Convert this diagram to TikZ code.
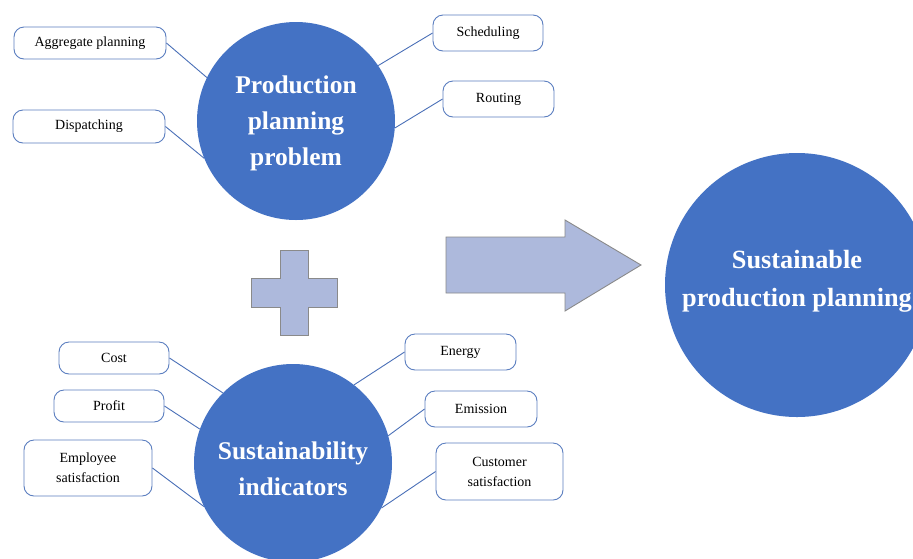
\documentclass[tikz,border=0pt]{standalone}
\usepackage{fontspec}
\setmainfont{Liberation Serif}
\definecolor{circblue}{HTML}{4472C4}
\definecolor{boxblue}{HTML}{5B7EC0}
\definecolor{lineblue}{HTML}{4A70B8}
\definecolor{shapefill}{HTML}{ADB9DC}
\definecolor{shapeedge}{HTML}{8A8A8A}
\tikzset{
  bigcirc/.style={circle, fill=circblue, draw=none, inner sep=0pt, text=white, align=center,
    font=\fontsize{25.5}{36}\selectfont\bfseries},
  itembox/.style={rectangle, rounded corners=10pt, draw=boxblue, line width=0.9pt, fill=white,
    inner sep=0pt, align=center, font=\fontsize{14}{20}\selectfont},
  link/.style={draw=lineblue, line width=0.9pt},
  shapebox/.style={fill=shapefill, draw=shapeedge, line width=0.9pt}
}
\begin{document}
\begin{tikzpicture}[x=1pt,y=-1pt]
\useasboundingbox (0,0) rectangle (913,558);
\clip (0,0) rectangle (913,558);
\fill[white] (0,0) rectangle (913,558);
% circles
\node[bigcirc, minimum size=198pt] (pp) at (296,121) {\rule{0pt}{22pt}Production\\planning\\problem};
\node[bigcirc, minimum size=198pt] (si) at (293,463) {\rule{0pt}{30pt}Sustainability\\indicators};
\node[bigcirc, minimum size=264pt, font=\fontsize{26.3}{38}\selectfont\bfseries] (sp) at (797,285) {Sustainable\\production planning\rule[-14pt]{0pt}{0pt}};
% boxes
\node[itembox, minimum width=152pt, minimum height=32pt] (agg) at (90,43) {Aggregate planning};
\node[itembox, minimum width=152pt, minimum height=33pt] (disp) at (89,126.5) {Dispatching};
\node[itembox, minimum width=110pt, minimum height=36pt] (sched) at (488,33) {Scheduling};
\node[itembox, minimum width=111pt, minimum height=36pt] (rout) at (498.5,99) {Routing};
\node[itembox, minimum width=110pt, minimum height=32pt] (cost) at (114,358) {Cost};
\node[itembox, minimum width=110pt, minimum height=32pt] (prof) at (109,406) {Profit};
\node[itembox, minimum width=128pt, minimum height=56pt] (emp) at (88,468) {Employee\\satisfaction};
\node[itembox, minimum width=111pt, minimum height=36pt] (ener) at (460.5,352) {Energy};
\node[itembox, minimum width=112pt, minimum height=36pt] (emis) at (481,409) {Emission};
\node[itembox, minimum width=127pt, minimum height=57pt] (cust) at (499.5,471.5) {Customer\\satisfaction};
% connectors
\draw[link] (agg.east) -- (pp.154);
\draw[link] (disp.east) -- (pp.202);
\draw[link] (sched.west) -- (pp.34);
\draw[link] (rout.west) -- (pp.-4);
\draw[link] (cost.east) -- (si.135);
\draw[link] (prof.east) -- (si.160);
\draw[link] (emp.east) -- (si.206);
\draw[link] (ener.west) -- (si.52);
\draw[link] (emis.west) -- (si.16);
\draw[link] (cust.west) -- (si.-27);
% plus sign
\draw[shapebox] (280,250) -- (308,250) -- (308,278) -- (337,278) -- (337,307) -- (308,307)
  -- (308,335) -- (280,335) -- (280,307) -- (251,307) -- (251,278) -- (280,278) -- cycle;
% arrow
\draw[shapebox] (446,237) -- (565,237) -- (565,220) -- (641,265) -- (565,311) -- (565,293)
  -- (446,293) -- cycle;
\end{tikzpicture}
\end{document}
